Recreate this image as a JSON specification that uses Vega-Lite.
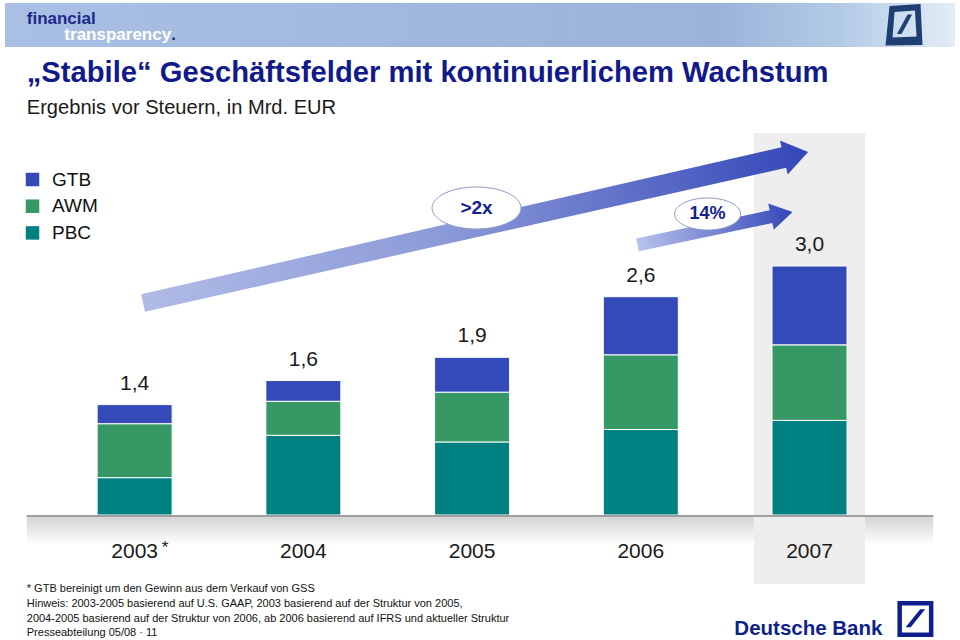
{
  "$schema": "https://vega.github.io/schema/vega-lite/v6.json",
  "width": 960,
  "height": 640,
  "padding": 0,
  "autosize": {"type": "none"},
  "background": "white",
  "config": {
    "view": {"stroke": null},
    "font": "Liberation Sans",
    "locale": {"number": {"decimal": ",", "thousands": ".", "grouping": [3], "currency": ["", " €"]}}
  },
  "datasets": {
    "segments": [
      {"year": 2003, "segment": "PBC", "value": 0.45},
      {"year": 2003, "segment": "AWM", "value": 0.65},
      {"year": 2003, "segment": "GTB", "value": 0.23},
      {"year": 2004, "segment": "PBC", "value": 0.96},
      {"year": 2004, "segment": "AWM", "value": 0.41},
      {"year": 2004, "segment": "GTB", "value": 0.25},
      {"year": 2005, "segment": "PBC", "value": 0.88},
      {"year": 2005, "segment": "AWM", "value": 0.60},
      {"year": 2005, "segment": "GTB", "value": 0.42},
      {"year": 2006, "segment": "PBC", "value": 1.03},
      {"year": 2006, "segment": "AWM", "value": 0.90},
      {"year": 2006, "segment": "GTB", "value": 0.70},
      {"year": 2007, "segment": "PBC", "value": 1.14},
      {"year": 2007, "segment": "AWM", "value": 0.91},
      {"year": 2007, "segment": "GTB", "value": 0.95}
    ],
    "totals": [
      {"year": 2003, "total": 1.4, "note": "*"},
      {"year": 2004, "total": 1.6, "note": ""},
      {"year": 2005, "total": 1.9, "note": ""},
      {"year": 2006, "total": 2.6, "note": ""},
      {"year": 2007, "total": 3.0, "note": ""}
    ]
  },
  "layer": [
    {
      "data": {"values": [{}]},
      "mark": {"type": "rect", "fill": {"gradient": "linear", "x1": 0, "y1": 0, "x2": 1, "y2": 0,
        "stops": [{"offset": 0, "color": "#a9c0e4"}, {"offset": 0.5, "color": "#a0b7dc"}, {"offset": 0.75, "color": "#9bb3d9"}, {"offset": 0.88, "color": "#b3cae6"}, {"offset": 1, "color": "#e4edf7"}]}},
      "encoding": {
        "x": {"datum": 2002.2317, "type": "quantitative", "scale": {"domain": [2002.2317, 2007.8622], "nice": false, "zero": false}, "axis": null},
        "x2": {"datum": 2007.8622},
        "y": {"datum": 6.1687, "type": "quantitative", "scale": {"domain": [-1.506, 6.2048], "nice": false, "zero": false}, "axis": null},
        "y2": {"datum": 5.6386}
      }
    },
    {
      "data": {"values": [{}]},
      "mark": {"type": "point", "filled": true, "opacity": 1, "strokeWidth": 0, "fill": "#1f3f72", "size": 1600,
        "shape": "M -0.75 -0.95 L 0.8 -1.05 L 0.9 1 L -0.95 1.02 Z M -0.5 -0.65 L -0.6 0.62 L 0.6 0.58 L 0.52 -0.72 Z M -0.38 0.45 L 0.15 -0.52 L 0.38 -0.52 L -0.15 0.45 Z"},
      "encoding": {
        "x": {"datum": 2007.5631, "type": "quantitative", "scale": {"domain": [2002.2317, 2007.8622], "nice": false, "zero": false}, "axis": null},
        "y": {"datum": 5.9036, "type": "quantitative", "scale": {"domain": [-1.506, 6.2048], "nice": false, "zero": false}, "axis": null}
      }
    },
    {
      "data": {"values": [{}]},
      "mark": {"type": "text", "text": "financial", "align": "left", "baseline": "middle", "fontSize": 17, "fontWeight": "bold", "color": "#1c2a8a"},
      "encoding": {
        "x": {"datum": 2002.3607, "type": "quantitative", "scale": {"domain": [2002.2317, 2007.8622], "nice": false, "zero": false}, "axis": null},
        "y": {"datum": 5.9759, "type": "quantitative", "scale": {"domain": [-1.506, 6.2048], "nice": false, "zero": false}, "axis": null}
      }
    },
    {
      "data": {"values": [{}]},
      "mark": {"type": "text", "text": "transparency", "align": "left", "baseline": "middle", "fontSize": 17, "fontWeight": "bold", "color": "#ffffff"},
      "encoding": {
        "x": {"datum": 2002.5836, "type": "quantitative", "scale": {"domain": [2002.2317, 2007.8622], "nice": false, "zero": false}, "axis": null},
        "y": {"datum": 5.7831, "type": "quantitative", "scale": {"domain": [-1.506, 6.2048], "nice": false, "zero": false}, "axis": null}
      }
    },
    {
      "data": {"values": [{}]},
      "mark": {"type": "text", "text": ".", "align": "left", "baseline": "middle", "fontSize": 17, "fontWeight": "bold", "color": "#1c2a8a", "dx": 107},
      "encoding": {
        "x": {"datum": 2002.5836, "type": "quantitative", "scale": {"domain": [2002.2317, 2007.8622], "nice": false, "zero": false}, "axis": null},
        "y": {"datum": 5.7831, "type": "quantitative", "scale": {"domain": [-1.506, 6.2048], "nice": false, "zero": false}, "axis": null}
      }
    },
    {
      "data": {"values": [{}]},
      "mark": {"type": "text", "text": "„Stabile“ Geschäftsfelder mit kontinuierlichem Wachstum", "align": "left", "baseline": "middle", "fontSize": 29.2, "fontWeight": "bold", "color": "#12198a"},
      "encoding": {
        "x": {"datum": 2002.3607, "type": "quantitative", "scale": {"domain": [2002.2317, 2007.8622], "nice": false, "zero": false}, "axis": null},
        "y": {"datum": 5.3253, "type": "quantitative", "scale": {"domain": [-1.506, 6.2048], "nice": false, "zero": false}, "axis": null}
      }
    },
    {
      "data": {"values": [{}]},
      "mark": {"type": "text", "text": "Ergebnis vor Steuern, in Mrd. EUR", "align": "left", "baseline": "middle", "fontSize": 20.1, "color": "#1a1a1a"},
      "encoding": {
        "x": {"datum": 2002.3607, "type": "quantitative", "scale": {"domain": [2002.2317, 2007.8622], "nice": false, "zero": false}, "axis": null},
        "y": {"datum": 4.9036, "type": "quantitative", "scale": {"domain": [-1.506, 6.2048], "nice": false, "zero": false}, "axis": null}
      }
    },
    {
      "data": {"values": [{}]},
      "mark": {"type": "rect", "fill": {"gradient": "linear", "x1": 0, "y1": 0, "x2": 0, "y2": 1,
        "stops": [{"offset": 0, "color": "#d4d4d4"}, {"offset": 1, "color": "#ffffff"}]}},
      "encoding": {
        "x": {"datum": 2002.3607, "type": "quantitative", "scale": {"domain": [2002.2317, 2007.8622], "nice": false, "zero": false}, "axis": null},
        "x2": {"datum": 2007.7332},
        "y": {"datum": -0.0181, "type": "quantitative", "scale": {"domain": [-1.506, 6.2048], "nice": false, "zero": false}, "axis": null},
        "y2": {"datum": -0.3614}
      }
    },
    {
      "data": {"values": [{}]},
      "mark": {"type": "bar", "width": 111, "color": "#eeeeee"},
      "encoding": {
        "x": {"datum": 2007, "type": "quantitative", "scale": {"domain": [2002.2317, 2007.8622], "nice": false, "zero": false}, "axis": null},
        "y": {"datum": 4.6024, "type": "quantitative", "scale": {"domain": [-1.506, 6.2048], "nice": false, "zero": false}, "axis": null},
        "y2": {"datum": -0.8313}
      }
    },
    {
      "data": {"values": [{}]},
      "mark": {"type": "point", "filled": true, "opacity": 1, "strokeWidth": 0, "size": 465124, "angle": -12.79,
        "fill": {"gradient": "linear", "x1": 0, "y1": 0, "x2": 1, "y2": 0, "stops": [{"offset": 0, "color": "#b0bbe6"}, {"offset": 0.45, "color": "#8c9ad8"}, {"offset": 1, "color": "#3447b8"}]},
        "shape": "M -1 -0.026 L 0.927 -0.031 L 0.927 -0.051 L 1 0 L 0.927 0.051 L 0.927 0.031 L -1 0.026 Z"},
      "encoding": {
        "x": {"datum": 2005.0206, "type": "quantitative", "scale": {"domain": [2002.2317, 2007.8622], "nice": false, "zero": false}, "axis": null},
        "y": {"datum": 3.4639, "type": "quantitative", "scale": {"domain": [-1.506, 6.2048], "nice": false, "zero": false}, "axis": null}
      }
    },
    {
      "data": {"values": [{}]},
      "mark": {"type": "point", "filled": true, "opacity": 1, "strokeWidth": 0, "size": 25122, "angle": -12.0,
        "fill": {"gradient": "linear", "x1": 0, "y1": 0, "x2": 1, "y2": 0, "stops": [{"offset": 0, "color": "#b8c2ec"}, {"offset": 1, "color": "#3447b8"}]},
        "shape": "M -1 -0.082 L 0.722 -0.082 L 0.722 -0.17 L 1 0 L 0.722 0.17 L 0.722 0.082 L -1 0.082 Z"},
      "encoding": {
        "x": {"datum": 2006.4399, "type": "quantitative", "scale": {"domain": [2002.2317, 2007.8622], "nice": false, "zero": false}, "axis": null},
        "y": {"datum": 3.4518, "type": "quantitative", "scale": {"domain": [-1.506, 6.2048], "nice": false, "zero": false}, "axis": null}
      }
    },
    {
      "data": {"values": [{}]},
      "mark": {"type": "point", "filled": true, "opacity": 1, "fill": "#ffffff", "stroke": "#8f9ac8", "strokeWidth": 1, "size": 7921,
        "shape": "M -1 0 C -1 -0.261 -0.552 -0.472 0 -0.472 C 0.552 -0.472 1 -0.261 1 0 C 1 0.261 0.552 0.472 0 0.472 C -0.552 0.472 -1 0.261 -1 0 Z"},
      "encoding": {
        "x": {"datum": 2005.0264, "type": "quantitative", "scale": {"domain": [2002.2317, 2007.8622], "nice": false, "zero": false}, "axis": null},
        "y": {"datum": 3.6988, "type": "quantitative", "scale": {"domain": [-1.506, 6.2048], "nice": false, "zero": false}, "axis": null}
      }
    },
    {
      "data": {"values": [{}]},
      "mark": {"type": "point", "filled": true, "opacity": 1, "fill": "#ffffff", "stroke": "#8f9ac8", "strokeWidth": 1, "size": 4356,
        "shape": "M -1 0 C -1 -0.268 -0.552 -0.485 0 -0.485 C 0.552 -0.485 1 -0.268 1 0 C 1 0.268 0.552 0.485 0 0.485 C -0.552 0.485 -1 0.268 -1 0 Z"},
      "encoding": {
        "x": {"datum": 2006.3959, "type": "quantitative", "scale": {"domain": [2002.2317, 2007.8622], "nice": false, "zero": false}, "axis": null},
        "y": {"datum": 3.6265, "type": "quantitative", "scale": {"domain": [-1.506, 6.2048], "nice": false, "zero": false}, "axis": null}
      }
    },
    {
      "data": {"values": [{}]},
      "mark": {"type": "text", "text": ">2x", "align": "center", "baseline": "middle", "fontSize": 19, "fontWeight": "bold", "color": "#15208f"},
      "encoding": {
        "x": {"datum": 2005.0264, "type": "quantitative", "scale": {"domain": [2002.2317, 2007.8622], "nice": false, "zero": false}, "axis": null},
        "y": {"datum": 3.6988, "type": "quantitative", "scale": {"domain": [-1.506, 6.2048], "nice": false, "zero": false}, "axis": null}
      }
    },
    {
      "data": {"values": [{}]},
      "mark": {"type": "text", "text": "14%", "align": "center", "baseline": "middle", "fontSize": 18, "fontWeight": "bold", "color": "#15208f"},
      "encoding": {
        "x": {"datum": 2006.3959, "type": "quantitative", "scale": {"domain": [2002.2317, 2007.8622], "nice": false, "zero": false}, "axis": null},
        "y": {"datum": 3.6265, "type": "quantitative", "scale": {"domain": [-1.506, 6.2048], "nice": false, "zero": false}, "axis": null}
      }
    },
    {
      "data": {"name": "segments"},
      "transform": [{"calculate": "indexof(['PBC','AWM','GTB'], datum.segment)", "as": "stackOrder"}],
      "mark": {"type": "bar", "width": 75, "stroke": "#ffffff", "strokeWidth": 1},
      "encoding": {
        "x": {"field": "year", "type": "quantitative", "scale": {"domain": [2002.2317, 2007.8622], "nice": false, "zero": false}, "axis": null},
        "y": {"field": "value", "type": "quantitative", "stack": "zero", "scale": {"domain": [-1.506, 6.2048], "nice": false, "zero": false}, "axis": null},
        "color": {"field": "segment", "type": "nominal",
          "scale": {"domain": ["GTB", "AWM", "PBC"], "range": ["#344ab8", "#369864", "#008080"]},
          "legend": {"orient": "none", "legendX": 23, "legendY": 170, "title": null, "symbolType": "square", "symbolSize": 182,
            "symbolStrokeWidth": 0, "labelFontSize": 19, "labelColor": "#111111", "labelOffset": 10, "rowPadding": 6.7, "labelFont": "Liberation Sans"}},
        "order": {"field": "stackOrder", "type": "quantitative"}
      }
    },
    {
      "data": {"values": [{}]},
      "mark": {"type": "rule", "color": "#a0a0a0", "strokeWidth": 2},
      "encoding": {
        "x": {"datum": 2002.3607, "type": "quantitative", "scale": {"domain": [2002.2317, 2007.8622], "nice": false, "zero": false}, "axis": null},
        "x2": {"datum": 2007.7332},
        "y": {"datum": -0.012, "type": "quantitative", "scale": {"domain": [-1.506, 6.2048], "nice": false, "zero": false}, "axis": null}
      }
    },
    {
      "data": {"name": "segments"},
      "transform": [
        {"aggregate": [{"op": "sum", "field": "value", "as": "top"}], "groupby": ["year"]},
        {"lookup": "year", "from": {"data": {"name": "totals"}, "key": "year", "fields": ["total"]}}
      ],
      "mark": {"type": "text", "align": "center", "baseline": "middle", "dy": -21, "fontSize": 21, "color": "#1a1a1a"},
      "encoding": {
        "x": {"field": "year", "type": "quantitative", "scale": {"domain": [2002.2317, 2007.8622], "nice": false, "zero": false}, "axis": null},
        "y": {"field": "top", "type": "quantitative", "scale": {"domain": [-1.506, 6.2048], "nice": false, "zero": false}, "axis": null},
        "text": {"field": "total", "type": "quantitative", "format": ".1f"}
      }
    },
    {
      "data": {"name": "totals"},
      "mark": {"type": "text", "align": "center", "baseline": "middle", "fontSize": 21, "color": "#1a1a1a"},
      "encoding": {
        "x": {"field": "year", "type": "quantitative", "scale": {"domain": [2002.2317, 2007.8622], "nice": false, "zero": false}, "axis": null},
        "y": {"datum": -0.4458, "type": "quantitative", "scale": {"domain": [-1.506, 6.2048], "nice": false, "zero": false}, "axis": null},
        "text": {"field": "year", "type": "quantitative", "format": "d"}
      }
    },
    {
      "data": {"name": "totals"},
      "mark": {"type": "text", "align": "center", "baseline": "alphabetic", "fontSize": 17, "dx": 30.5, "color": "#1a1a1a"},
      "encoding": {
        "x": {"field": "year", "type": "quantitative", "scale": {"domain": [2002.2317, 2007.8622], "nice": false, "zero": false}, "axis": null},
        "y": {"datum": -0.4578, "type": "quantitative", "scale": {"domain": [-1.506, 6.2048], "nice": false, "zero": false}, "axis": null},
        "text": {"field": "note", "type": "nominal"}
      }
    },
    {
      "data": {"values": [{}]},
      "mark": {"type": "text", "align": "left", "baseline": "top", "fontSize": 11, "lineHeight": 14.7, "font": "Liberation Sans", "color": "#111111",
        "text": ["* GTB bereinigt um den Gewinn aus dem Verkauf von GSS", "Hinweis: 2003-2005 basierend auf U.S. GAAP, 2003 basierend auf der Struktur von 2005,", "2004-2005 basierend auf der Struktur von 2006, ab 2006 basierend auf IFRS und aktueller Struktur", "Presseabteilung 05/08 · 11"]},
      "encoding": {
        "x": {"datum": 2002.3607, "type": "quantitative", "scale": {"domain": [2002.2317, 2007.8622], "nice": false, "zero": false}, "axis": null},
        "y": {"datum": -0.8217, "type": "quantitative", "scale": {"domain": [-1.506, 6.2048], "nice": false, "zero": false}, "axis": null}
      }
    },
    {
      "data": {"values": [{}]},
      "mark": {"type": "text", "text": "Deutsche Bank", "align": "left", "baseline": "alphabetic", "fontSize": 20.5, "fontWeight": "bold", "color": "#0f1f8e"},
      "encoding": {
        "x": {"datum": 2006.5543, "type": "quantitative", "scale": {"domain": [2002.2317, 2007.8622], "nice": false, "zero": false}, "axis": null},
        "y": {"datum": -1.4458, "type": "quantitative", "scale": {"domain": [-1.506, 6.2048], "nice": false, "zero": false}, "axis": null}
      }
    },
    {
      "data": {"values": [{}]},
      "mark": {"type": "point", "shape": "square", "filled": false, "opacity": 1, "stroke": "#0f1f8e", "strokeWidth": 4.5, "size": 992},
      "encoding": {
        "x": {"datum": 2007.6276, "type": "quantitative", "scale": {"domain": [2002.2317, 2007.8622], "nice": false, "zero": false}, "axis": null},
        "y": {"datum": -1.253, "type": "quantitative", "scale": {"domain": [-1.506, 6.2048], "nice": false, "zero": false}, "axis": null}
      }
    },
    {
      "data": {"values": [{}]},
      "mark": {"type": "point", "shape": "M -0.62 0.52 L 0.3 -0.62 L 0.62 -0.62 L -0.3 0.52 Z", "filled": true, "opacity": 1, "strokeWidth": 0, "fill": "#0f1f8e", "size": 992},
      "encoding": {
        "x": {"datum": 2007.6276, "type": "quantitative", "scale": {"domain": [2002.2317, 2007.8622], "nice": false, "zero": false}, "axis": null},
        "y": {"datum": -1.253, "type": "quantitative", "scale": {"domain": [-1.506, 6.2048], "nice": false, "zero": false}, "axis": null}
      }
    }
  ]
}
